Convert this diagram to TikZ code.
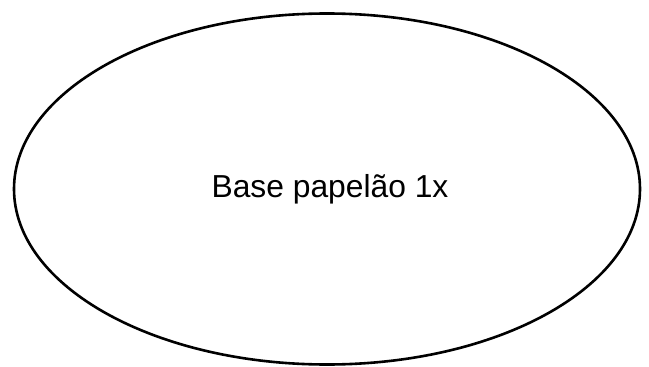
\documentclass[tikz,border=0pt]{standalone}
\usepackage{fontspec}
\setmainfont{Liberation Sans}
\usetikzlibrary{shapes.geometric}
\tikzset{%
    part/.style={ellipse, draw, line width=2.6pt, inner sep=0pt,
        minimum width=626pt, minimum height=351pt,
        font=\fontsize{31.8}{36}\selectfont}
}

\begin{document}
\begin{tikzpicture}[x=1pt, y=1pt]
    \useasboundingbox (0, 0) rectangle (649, -367);

    % Base
    \node[part] (base) at (327, -189) {\hspace{6pt}Base papelão 1x};

\end{tikzpicture}
\end{document}
